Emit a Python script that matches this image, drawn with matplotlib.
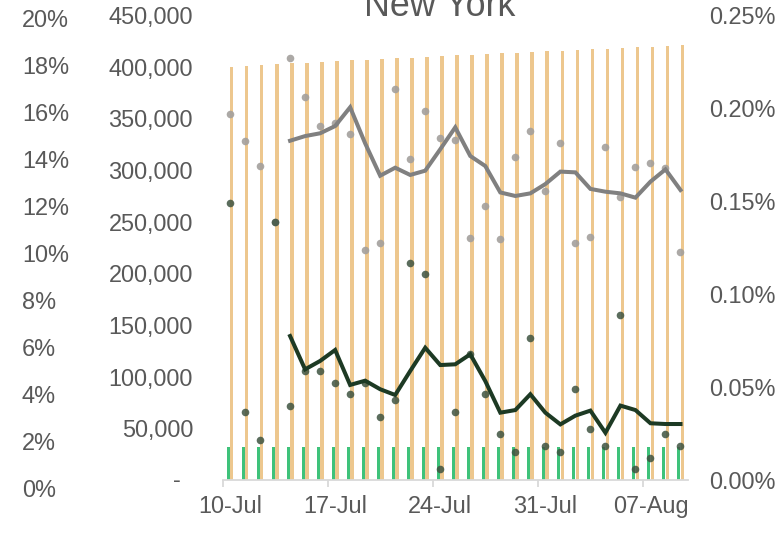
import matplotlib
matplotlib.use("Agg")
import matplotlib.pyplot as plt
import matplotlib.dates as mdates
from matplotlib.ticker import FuncFormatter, FixedLocator
import pandas as pd

plt.rcParams["font.family"] = ["Liberation Sans", "DejaVu Sans"]

# DATA --------------------------------------------------------------------
dates = pd.date_range("2020-07-10", "2020-08-09")

tests = [400000, 400900, 401600, 402300, 403200, 403800, 404500, 405500, 406100, 406400,
         407100, 408100, 408700, 409400, 410000, 411000, 411300, 412200, 412900, 413500,
         414200, 414800, 415500, 416100, 416800, 417400, 418100, 418700, 419300, 420000, 421000]

green_bars = [31600, 31600, 31600, 31600, 31600, 31600, 31600, 31600, 31600, 31600,
              31600, 31600, 31600, 31600, 31600, 31600, 31600, 31600, 31600, 31600,
              31600, 31600, 31600, 31600, 31600, 31600, 31600, 31600, 31600, 31600, 31600]

# daily rates (% , right axis)
grey_pts = [0.1968, 0.1823, 0.1690, 0.1389, 0.2267, 0.2061, 0.1905, 0.1918, 0.1860, 0.1239,
            0.1276, 0.2100, 0.1726, 0.1984, 0.1840, 0.1826, 0.1303, 0.1475, 0.1294, 0.1735,
            0.1878, 0.1554, 0.1813, 0.1276, 0.1308, 0.1792, 0.1520, 0.1681, 0.1706, 0.1679, 0.1226]

dark_pts = [0.1488, 0.0367, 0.0213, 0.1389, 0.0400, 0.0586, 0.0586, 0.0522, 0.0461, 0.0522,
            0.0337, 0.0428, 0.1168, 0.1106, 0.0059, 0.0366, 0.0676, 0.0461, 0.0246, 0.0152,
            0.0765, 0.0181, 0.0151, 0.0488, 0.0274, 0.0181, 0.0885, 0.0059, 0.0120, 0.0246, 0.0181]

# rolling averages, starting 14-Jul
grey_avg = [0.1824, 0.1849, 0.1864, 0.1903, 0.2004, 0.1810, 0.1636, 0.1679, 0.1640, 0.1663,
            0.1778, 0.1896, 0.1742, 0.1688, 0.1546, 0.1527, 0.1541, 0.1591, 0.1658, 0.1654,
            0.1565, 0.1550, 0.1541, 0.1518, 0.1604, 0.1670, 0.1559]

dark_avg = [0.0774, 0.0595, 0.0640, 0.0699, 0.0511, 0.0534, 0.0488, 0.0457, 0.0586, 0.0711,
            0.0618, 0.0622, 0.0676, 0.0532, 0.0362, 0.0376, 0.0461, 0.0362, 0.0299, 0.0346,
            0.0373, 0.0254, 0.0400, 0.0376, 0.0305, 0.0301, 0.0301]

outer_ticks = [0, 2, 4, 6, 8, 10, 12, 14, 16, 18, 20]
count_ticks = [50000, 100000, 150000, 200000, 250000, 300000, 350000, 400000, 450000]
right_ticks = [0.0, 0.05, 0.10, 0.15, 0.20, 0.25]
label_dates = ["2020-07-10", "2020-07-17", "2020-07-24", "2020-07-31", "2020-08-07"]

# STYLE --------------------------------------------------------------------
TXT = "#595959"
FS = 16.9
W, H = 779, 533

x = mdates.date2num(dates)
avg_x = x[4:]

fig = plt.figure(figsize=(W / 100, H / 100), dpi=100)

# main plot area (pixels: x 222.5-688, y 15-480)
ax = fig.add_axes([222.5 / W, (H - 480) / H, (688 - 222.5) / W, (480 - 15) / H])
ax.bar(x + 0.12, tests, width=0.22, color="#EDC78E", zorder=2)
ax.bar(x - 0.13, green_bars, width=0.2, color="#3EC27A", zorder=2)
ax.set_ylim(0, 450000)
ax.set_xlim(x[0] - 0.5, x[-1] + 0.5)

for s in ["top", "right", "left"]:
    ax.spines[s].set_visible(False)
ax.spines["bottom"].set_color("#D9D9D9")
ax.spines["bottom"].set_linewidth(1.3)

ax.yaxis.set_major_locator(FixedLocator(count_ticks))
ax.yaxis.set_major_formatter(FuncFormatter(lambda v, p: f"{int(v):,}"))
ax.tick_params(axis="y", length=0, pad=21.2, labelsize=FS, labelcolor=TXT)
ax.annotate("-", xy=(0, 0), xycoords=("axes fraction", "data"), xytext=(-45.5, 0),
            textcoords="offset pixels", ha="center", va="center", fontsize=FS, color=TXT)

# x ticks at week boundaries, labels at day centers
bounds = [mdates.date2num(pd.Timestamp(d)) - 0.5 for d in label_dates]
ax.xaxis.set_major_locator(FixedLocator(bounds))
ax.xaxis.set_major_formatter(FuncFormatter(lambda v, p: ""))
ax.xaxis.set_minor_locator(FixedLocator(mdates.date2num(pd.to_datetime(label_dates))))
ax.xaxis.set_minor_formatter(mdates.DateFormatter("%d-%b"))
ax.tick_params(axis="x", which="major", length=5, width=1.3, color="#D9D9D9")
ax.tick_params(axis="x", which="minor", length=0, pad=10.5, labelsize=FS, labelcolor=TXT)

# right axis: rates
ax2 = ax.twinx()
ax2.scatter(x, grey_pts, s=30, color="#A3A09D", alpha=0.9, linewidths=0, zorder=3)
ax2.scatter(x, dark_pts, s=30, color="#3E5341", alpha=0.85, linewidths=0, zorder=3)
ax2.plot(avg_x, grey_avg, color="#808080", lw=2.9, zorder=4, solid_joinstyle="miter")
ax2.plot(avg_x, dark_avg, color="#1D3A24", lw=2.9, zorder=4, solid_joinstyle="miter")
ax2.set_ylim(0, 0.25)
for s in ["top", "right", "left", "bottom"]:
    ax2.spines[s].set_visible(False)
ax2.yaxis.set_major_locator(FixedLocator(right_ticks))
ax2.yaxis.set_major_formatter(FuncFormatter(lambda v, p: f"{v:.2f}%"))
ax2.tick_params(axis="y", length=0, pad=15.1, labelsize=FS, labelcolor=TXT)
for lab in ax2.get_yticklabels():
    lab.set_horizontalalignment("left")

# outer left percentage axis (pixels y 18-488, labels left aligned at x=22)
ax3 = fig.add_axes([22 / W, (H - 488) / H, 0.001, (488 - 18) / H])
ax3.set_ylim(0, 20)
ax3.patch.set_visible(False)
for s in ax3.spines.values():
    s.set_visible(False)
ax3.set_xticks([])
ax3.yaxis.set_major_locator(FixedLocator(outer_ticks))
ax3.yaxis.set_major_formatter(FuncFormatter(lambda v, p: f"{int(v)}%"))
ax3.tick_params(axis="y", length=0, pad=0, labelsize=FS, labelcolor=TXT)
for lab in ax3.get_yticklabels():
    lab.set_horizontalalignment("left")

fig.text(439.5 / W, 1 - 16 / H, "New York", ha="center", va="baseline",
         fontsize=25.8, color=TXT)

fig.savefig("out.png", dpi=100)
